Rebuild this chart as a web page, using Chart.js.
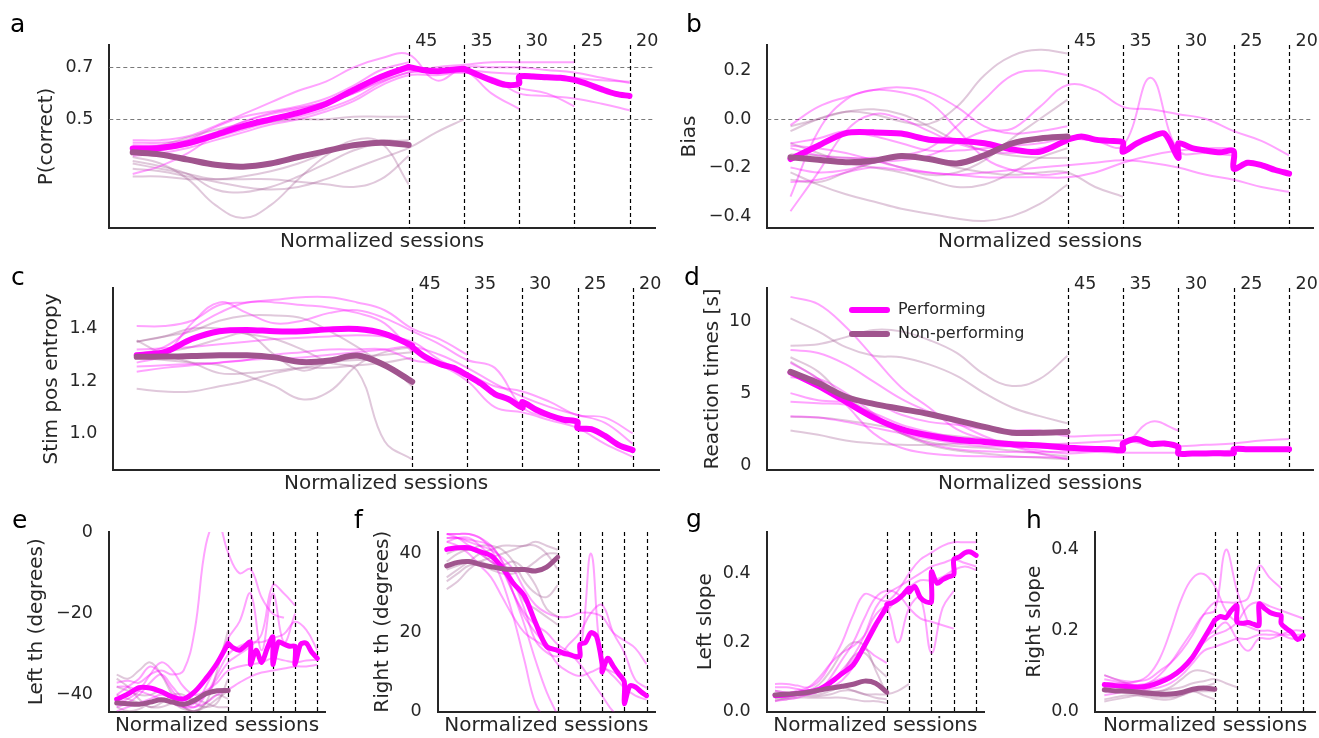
<!DOCTYPE html>
<html>
<head>
<meta charset="utf-8">
<script src="https://cdn.jsdelivr.net/npm/chart.js@4.4.1/dist/chart.umd.min.js"></script>
<style>
  body { margin: 0; background: #fff; }
  #fig { position: relative; width: 1319px; height: 738px; }
  #fig canvas { position: absolute; left: 0; top: 0; }
</style>
</head>
<body>
<div id="fig"></div>
<script>
// session axis: 0..5 = training before the first stage, then one unit per stage
const PRE_X = [0, 0.5, 1, 1.5, 2, 2.5, 3, 3.5, 4, 4.5, 5];
const STAGE_GRID = [5, 5.25, 5.5, 5.75, 6, 6, 6.25, 6.5, 6.75, 7, 7, 7.25, 7.5, 7.75, 8, 8, 8.25, 8.5, 8.75, 9];
const MEAN_X = PRE_X.concat(STAGE_GRID);
const THIN_X = [0, 0.5, 1, 1.5, 2, 2.5, 3, 3.5, 4, 4.5, 5, 5.5, 6, 6.5, 7, 7.5, 8, 8.5, 9];
const STAGE_X = [5, 6, 7, 8, 9];
const STAGE_LABELS = ['45', '35', '30', '25', '20'];

// a: P(correct)
const aTicks = [0.5, 0.7];
const aTickLabels = ['0.5', '0.7'];
const aPerfMean = [0.388, 0.39, 0.408, 0.44, 0.474, 0.50, 0.525, 0.559, 0.613, 0.664, 0.702,
  0.702, 0.69, 0.685, 0.69, 0.695, 0.695, 0.672, 0.65, 0.633, 0.638, 0.664, 0.665, 0.662, 0.66, 0.652, 0.652, 0.635, 0.615, 0.598, 0.59];
const aNonMean = [0.373, 0.365, 0.345, 0.325, 0.318, 0.33, 0.355, 0.378, 0.40, 0.41, 0.401];
const aPerfThin = [
  [0.42, 0.42, 0.435, 0.475, 0.52, 0.565, 0.61, 0.645, 0.70, 0.735, 0.75, 0.65, 0.70, 0.70, 0.70, 0.69, 0.68, 0.66, 0.64],
  [0.29, 0.32, 0.37, 0.44, 0.49, 0.525, 0.545, 0.565, 0.60, 0.645, 0.68, 0.70, 0.71, 0.72, 0.72, 0.72, 0.72],
  [0.40, 0.40, 0.41, 0.44, 0.47, 0.50, 0.53, 0.56, 0.60, 0.65, 0.69, 0.68, 0.69, 0.60, 0.54],
  [0.37, 0.38, 0.40, 0.43, 0.46, 0.49, 0.51, 0.54, 0.58, 0.64, 0.68, 0.68, 0.68, 0.66, 0.62, 0.60, 0.55],
  [0.36, 0.37, 0.39, 0.42, 0.45, 0.48, 0.50, 0.53, 0.57, 0.63, 0.67, 0.67, 0.68, 0.66, 0.60, 0.59, 0.58, 0.56, 0.535],
  [0.41, 0.41, 0.42, 0.45, 0.49, 0.52, 0.54, 0.57, 0.62, 0.67, 0.70, 0.69, 0.69, 0.68, 0.675, 0.67, 0.66, 0.65, 0.645],
  [0.38, 0.39, 0.42, 0.47, 0.51, 0.53, 0.55, 0.58, 0.63, 0.69, 0.72]
];
const aNonThin = [
  [0.355, 0.33, 0.27, 0.17, 0.12, 0.17, 0.27, 0.36, 0.42, 0.41, 0.25],
  [0.34, 0.32, 0.29, 0.23, 0.22, 0.24, 0.28, 0.33, 0.38, 0.41, 0.42],
  [0.38, 0.40, 0.43, 0.46, 0.48, 0.49, 0.50, 0.50, 0.51, 0.51, 0.51],
  [0.31, 0.30, 0.28, 0.26, 0.24, 0.23, 0.24, 0.27, 0.31, 0.35, 0.39, 0.45, 0.50],
  [0.33, 0.31, 0.29, 0.27, 0.28, 0.30, 0.33, 0.37, 0.40, 0.42, 0.41],
  [0.28, 0.28, 0.27, 0.27, 0.27, 0.27, 0.26, 0.25, 0.24, 0.27, 0.36]
];

// b: Bias
const bTicks = [-0.4, -0.2, 0.0, 0.2];
const bTickLabels = ['\u22120.4', '\u22120.2', '0.0', '0.2'];
const bPerfMean = [-0.165, -0.11, -0.058, -0.055, -0.06, -0.085, -0.09, -0.10, -0.125, -0.135, -0.085,
  -0.085, -0.072, -0.085, -0.09, -0.096, -0.135, -0.10, -0.075, -0.06, -0.16, -0.10, -0.12, -0.13, -0.137, -0.132, -0.205, -0.18, -0.19, -0.21, -0.225];
const bNonMean = [-0.158, -0.168, -0.178, -0.172, -0.152, -0.165, -0.183, -0.15, -0.10, -0.08, -0.072];
const bPerfThin = [
  [-0.38, -0.22, -0.05, 0.02, 0.0, -0.05, -0.10, -0.13, -0.14, -0.12, -0.10],
  [-0.32, -0.05, 0.08, 0.12, 0.13, 0.11, 0.05, -0.03, -0.06, -0.05, -0.03],
  [-0.025, 0.05, 0.09, 0.12, 0.11, 0.07, -0.04, -0.16, -0.21, -0.23, -0.22],
  [-0.12, -0.15, -0.16, -0.16, -0.15, -0.12, -0.03, 0.08, 0.18, 0.20, 0.18],
  [-0.20, -0.22, -0.21, -0.18, -0.17, -0.15, -0.10, -0.05, -0.04, 0.05, 0.14, 0.12, 0.05, 0.04, 0.02, 0.0, -0.05, -0.09, -0.15],
  [-0.10, -0.08, -0.05, -0.07, -0.10, -0.13, -0.13, -0.12, -0.11, -0.10, -0.08, -0.09, -0.11, 0.17, -0.13, -0.14, -0.15],
  [-0.26, -0.25, -0.22, -0.20, -0.21, -0.22, -0.23, -0.22, -0.21, -0.20, -0.19, -0.18, -0.17, -0.18, -0.20, -0.23, -0.25, -0.28, -0.30],
  [-0.11, -0.12, -0.14, -0.17, -0.20, -0.22, -0.23, -0.24, -0.24, -0.24, -0.24, -0.22, -0.18, -0.15, -0.13, -0.12, -0.12]
];
const bNonThin = [
  [-0.05, 0.0, 0.03, 0.02, -0.01, -0.02, 0.05, 0.18, 0.26, 0.285, 0.27],
  [-0.22, -0.27, -0.31, -0.34, -0.37, -0.39, -0.41, -0.42, -0.40, -0.35, -0.27],
  [-0.25, -0.26, -0.22, -0.18, -0.16, -0.17, -0.20, -0.22, -0.23, -0.22, -0.22, -0.28, -0.32],
  [-0.03, 0.0, 0.03, 0.04, 0.02, -0.03, -0.09, -0.13, -0.15, -0.16, -0.16],
  [-0.145, -0.15, -0.16, -0.17, -0.20, -0.23, -0.22, -0.17, -0.08, 0.0, 0.08],
  [-0.10, -0.14, -0.18, -0.20, -0.22, -0.25, -0.28, -0.27, -0.22, -0.16, -0.12]
];

// c: Stim pos entropy
const cTicks = [1.0, 1.2, 1.4];
const cTickLabels = ['1.0', '1.2', '1.4'];
const cPerfMean = [1.298, 1.31, 1.36, 1.39, 1.395, 1.39, 1.39, 1.397, 1.398, 1.38, 1.335,
  1.33, 1.29, 1.265, 1.25, 1.222, 1.222, 1.19, 1.15, 1.13, 1.098, 1.12, 1.09, 1.068, 1.052, 1.044, 1.02, 1.016, 0.99, 0.955, 0.936];
const cNonMean = [1.292, 1.293, 1.295, 1.298, 1.298, 1.29, 1.272, 1.278, 1.297, 1.26, 1.197];
const cPerfThin = [
  [1.41, 1.41, 1.43, 1.49, 1.50, 1.51, 1.52, 1.52, 1.50, 1.47, 1.40, 1.36, 1.30],
  [1.235, 1.25, 1.26, 1.27, 1.28, 1.285, 1.29, 1.30, 1.31, 1.32, 1.33, 1.30, 1.25, 1.19, 1.14, 1.10, 1.07, 1.04, 0.96],
  [1.27, 1.30, 1.42, 1.50, 1.46, 1.42, 1.43, 1.46, 1.47, 1.44, 1.39, 1.34, 1.28, 1.25, 1.10, 1.06, 1.04],
  [1.32, 1.325, 1.33, 1.34, 1.35, 1.36, 1.365, 1.37, 1.375, 1.37, 1.35, 1.28, 1.23, 1.18, 1.16, 1.12, 1.07, 1.06, 1.0],
  [1.255, 1.26, 1.265, 1.27, 1.28, 1.30, 1.31, 1.32, 1.32, 1.32, 1.28, 1.26, 1.20, 1.10, 1.08, 1.05, 1.02, 0.96, 0.91],
  [1.30, 1.33, 1.40, 1.46, 1.50, 1.50, 1.49, 1.48, 1.46, 1.42, 1.31]
];
const cNonThin = [
  [1.35, 1.37, 1.40, 1.40, 1.38, 1.36, 1.32, 1.27, 1.24, 0.97, 0.90],
  [1.17, 1.16, 1.16, 1.18, 1.20, 1.23, 1.25, 1.27, 1.29, 1.30, 1.31],
  [1.29, 1.28, 1.27, 1.26, 1.22, 1.18, 1.13, 1.16, 1.26, 1.31, 1.33],
  [1.35, 1.37, 1.39, 1.43, 1.45, 1.45, 1.44, 1.39, 1.33, 1.26, 1.20],
  [1.355, 1.30, 1.27, 1.23, 1.23, 1.24, 1.25, 1.25, 1.26, 1.27, 1.29],
  [1.29, 1.31, 1.33, 1.36, 1.38, 1.30, 1.24, 1.27, 1.28, 1.27, 1.18]
];

// d: Reaction times [s]
const dTicks = [0, 5, 10];
const dTickLabels = ['0', '5', '10'];
const dPerfMean = [6.45, 5.5, 4.4, 3.3, 2.5, 2.05, 1.75, 1.6, 1.45, 1.35, 1.2,
  1.2, 1.15, 1.12, 1.1, 1.05, 1.5, 1.8, 1.45, 1.5, 1.25, 0.8, 0.8, 0.8, 0.82, 0.82, 1.1, 1.1, 1.1, 1.1, 1.1];
const dNonMean = [6.48, 5.7, 4.75, 4.25, 3.9, 3.55, 3.1, 2.65, 2.25, 2.25, 2.3];
const dPerfThin = [
  [11.7, 11.2, 9.6, 7.5, 5.4, 4.0, 2.5, 1.8, 1.5, 1.3, 1.1],
  [8.0, 7.8, 7.0, 5.8, 4.6, 3.7, 2.9, 2.0, 1.3, 0.8, 0.4],
  [7.1, 6.0, 4.2, 2.2, 1.2, 0.8, 0.65, 0.6, 0.55, 0.55, 0.5],
  [5.0, 4.5, 4.4, 4.3, 3.5, 3.0, 2.8, 2.5, 2.4, 2.4, 2.0, 2.05, 2.1],
  [6.1, 6.0, 5.0, 3.6, 2.3, 1.5, 1.1, 0.95, 0.9, 0.9, 0.95, 1.0, 1.3, 3.0, 2.4],
  [4.4, 4.3, 4.2, 3.6, 2.8, 2.3, 1.9, 1.6, 1.3, 1.0, 0.8, 0.9, 0.85, 0.85, 0.85, 0.9, 1.0, 1.1, 1.2],
  [3.4, 3.3, 3.0, 2.6, 2.2, 1.8, 1.5, 1.3, 1.3, 1.4, 1.5, 1.6, 1.7, 1.4, 1.3, 1.4, 1.5, 1.7, 1.8]
];
const dNonThin = [
  [8.3, 8.4, 8.9, 9.4, 9.3, 8.7, 7.8, 6.3, 5.5, 6.0, 7.6],
  [10.2, 9.3, 8.2, 7.6, 7.5, 7.0, 6.2, 5.0, 4.0, 3.4, 2.9],
  [7.5, 6.5, 4.6, 3.4, 2.2, 1.4, 1.0, 0.8, 0.6, 0.5, 0.4],
  [3.35, 3.3, 3.1, 2.8, 2.5, 2.2, 2.0, 1.8, 1.6, 1.5, 1.4],
  [2.4, 2.1, 1.7, 1.5, 1.4, 1.4, 1.5, 1.6, 1.5, 1.4, 1.3],
  [7.2, 6.0, 4.7, 3.5, 2.2, 1.6, 1.3, 1.2, 1.0, 0.8, 0.6]
];

// e: Left threshold
const eTicks = [-40, -20, 0];
const eTickLabels = ['\u221240', '\u221220', '0'];
const ePerfMean = [-41.1, -39.8, -38.2, -38.3, -39.2, -40.5, -41.0, -39.2, -36.0, -32.2, -27.3,
  -27.3, -28.5, -29.0, -28.0, -27.0, -32.5, -29.0, -32.0, -28.5, -25.7, -32.5, -27.0, -27.5, -28.0, -28.1, -32.5, -27.5, -27.3, -29.5, -31.0];
const eNonMean = [-42.0, -42.2, -42.3, -41.8, -41.2, -41.8, -42.3, -41.3, -39.7, -39.0, -38.9];
const ePerfThin = [
  [-37, -36.5, -37, -35, -34, -35, -34, -24, -3, 3, -5, -10, -9, -16, -20, -21],
  [-43, -42, -40, -37, -35, -38, -41, -42, -38, -32, -26, -22, -15, -29, -15, -27, -20],
  [-40, -38, -36, -33, -35, -39, -42, -43, -40, -36, -32, -30, -28, -25, -13, -15, -18],
  [-38, -38, -39, -40, -41, -42, -43, -42, -40, -35, -30, -28, -27, -27, -26, -25, -22, -24, -29],
  [-44, -43, -42, -41, -40, -41, -43, -43, -42, -40, -38.7, -37, -35.5, -34.5, -34, -33.5, -33, -33, -32.6],
  [-42, -41, -39, -35, -32, -34, -38, -40, -39, -37, -34, -33, -32.5, -32, -31, -31.5, -32, -31.5, -31.4]
];
const eNonThin = [
  [-35, -36, -34, -32, -35, -40, -43, -44, -42, -34, -24],
  [-40, -41, -42, -43, -43, -42, -41, -41, -42, -43, -43],
  [-38, -39, -40, -40, -39, -41, -43, -44, -42, -40, -41],
  [-43, -44, -43.5, -42, -41, -42, -43.5, -44, -43, -41, -39],
  [-36, -38, -41, -43, -42, -40, -40, -42, -43, -42, -36]
];

// f: Right threshold
const fTicks = [0, 20, 40];
const fTickLabels = ['0', '20', '40'];
const fPerfMean = [41.1, 41.5, 41.5, 40.5, 39.5, 36.5, 32.5, 29.3, 22.5, 16.5, 15.5,
  15.5, 14.8, 14.5, 14.0, 13.9, 17.0, 17.5, 20.0, 19.0, 12.0, 10.0, 13.5, 11.5, 9.5, 7.5, 2.0, 6.5, 6.2, 5.0, 4.0];
const fNonMean = [36.9, 37.8, 38.0, 37.3, 36.7, 36.2, 36.0, 36.0, 35.6, 36.6, 39.1];
const fPerfThin = [
  [45, 45, 45, 44, 42, 38, 30, 22, 13, 5, -1],
  [44, 44, 43.5, 43, 42, 38, 33, 26, 18, 15, 14, 17, 20, 25, 27, 20, 15, 8, 6],
  [43, 44, 44, 42, 39, 33, 24, 13, 2, -2, -3],
  [45, 45, 45, 44, 41, 36, 30, 25, 22, 20, 17, 15, 12, 8, 4, 0, -2],
  [45, 44, 42, 40, 38, 36, 30, 24, 20, 17, 15, 14, 15, 40, 12, 10, 9],
  [44, 44, 43, 42, 41, 39, 36, 31, 27, 25, 24, 24, 25, 25, 24, 20, 18, 16, 12],
  [43, 42, 40, 37, 34, 29, 24, 20, 18, 16, 12, 10, 9, 10, 11, 9, 6, 4, 3]
];
const fNonThin = [
  [34, 36, 38, 40, 41, 42, 42, 42, 43, 42, 41],
  [31, 33, 36, 38, 39, 40, 41, 42, 42, 40, 36],
  [38, 40, 41, 40, 38, 36, 33, 28, 26, 24, 22],
  [36, 37, 38, 38, 37, 37, 38, 36, 32, 26, 24],
  [40, 41, 41, 42, 42, 41, 38, 33, 30, 29, 32],
  [33, 35, 37, 37, 36, 35, 35, 36, 38, 40, 40]
];

// g: Left slope
const gTicks = [0.0, 0.2, 0.4];
const gTickLabels = ['0.0', '0.2', '0.4'];
const gPerfMean = [0.046, 0.048, 0.052, 0.057, 0.065, 0.085, 0.11, 0.135, 0.19, 0.25, 0.305,
  0.31, 0.315, 0.325, 0.34, 0.358, 0.345, 0.362, 0.33, 0.318, 0.318, 0.405, 0.372, 0.382, 0.39, 0.397, 0.44, 0.448, 0.46, 0.462, 0.452];
const gNonMean = [0.048, 0.05, 0.052, 0.056, 0.062, 0.068, 0.073, 0.079, 0.088, 0.082, 0.056];
const gPerfThin = [
  [0.08, 0.08, 0.075, 0.07, 0.09, 0.14, 0.20, 0.28, 0.34, 0.33, 0.32, 0.35, 0.40, 0.44, 0.46, 0.48, 0.49, 0.49, 0.49],
  [0.03, 0.035, 0.04, 0.05, 0.06, 0.08, 0.12, 0.16, 0.22, 0.30, 0.34, 0.36, 0.38, 0.40, 0.42, 0.43, 0.44, 0.43, 0.42],
  [0.05, 0.05, 0.06, 0.07, 0.10, 0.14, 0.17, 0.19, 0.22, 0.28, 0.30, 0.20, 0.30, 0.33, 0.17, 0.30, 0.35],
  [0.06, 0.055, 0.05, 0.05, 0.06, 0.10, 0.15, 0.20, 0.27, 0.33, 0.35, 0.34, 0.30, 0.27, 0.26, 0.25, 0.24],
  [0.04, 0.045, 0.05, 0.055, 0.06, 0.07, 0.09, 0.13, 0.20, 0.26, 0.29, 0.33, 0.36, 0.38, 0.38, 0.39, 0.41, 0.42, 0.41],
  [0.07, 0.07, 0.065, 0.06, 0.065, 0.08, 0.11, 0.15, 0.18, 0.16, 0.14]
];
const gNonThin = [
  [0.03, 0.04, 0.05, 0.06, 0.08, 0.12, 0.17, 0.20, 0.19, 0.12, 0.05],
  [0.05, 0.05, 0.05, 0.05, 0.05, 0.06, 0.07, 0.06, 0.05, 0.05, 0.05, 0.06, 0.08],
  [0.04, 0.04, 0.045, 0.05, 0.06, 0.08, 0.11, 0.16, 0.17, 0.13, 0.10],
  [0.06, 0.055, 0.05, 0.045, 0.045, 0.05, 0.06, 0.06, 0.05, 0.04, 0.035],
  [0.035, 0.035, 0.04, 0.04, 0.04, 0.04, 0.04, 0.035, 0.03, 0.03, 0.025]
];

// h: Right slope
const hTicks = [0.0, 0.2, 0.4];
const hTickLabels = ['0.0', '0.2', '0.4'];
const hPerfMean = [0.067, 0.064, 0.062, 0.06, 0.063, 0.072, 0.085, 0.105, 0.135, 0.18, 0.226,
  0.226, 0.235, 0.232, 0.25, 0.262, 0.222, 0.218, 0.22, 0.216, 0.213, 0.266, 0.255, 0.245, 0.24, 0.237, 0.218, 0.205, 0.195, 0.178, 0.188];
const hNonMean = [0.054, 0.051, 0.05, 0.048, 0.045, 0.043, 0.043, 0.047, 0.055, 0.058, 0.055];
const hPerfThin = [
  [0.09, 0.08, 0.075, 0.075, 0.09, 0.13, 0.20, 0.28, 0.33, 0.34, 0.31, 0.25, 0.22, 0.21, 0.20, 0.20, 0.19, 0.18, 0.185],
  [0.05, 0.05, 0.055, 0.06, 0.07, 0.09, 0.12, 0.16, 0.20, 0.24, 0.25, 0.40, 0.30, 0.22],
  [0.07, 0.07, 0.07, 0.075, 0.08, 0.10, 0.12, 0.15, 0.19, 0.24, 0.27, 0.27, 0.27, 0.28, 0.36, 0.33, 0.305],
  [0.06, 0.06, 0.06, 0.065, 0.07, 0.08, 0.09, 0.11, 0.14, 0.17, 0.19, 0.20, 0.22, 0.26, 0.27, 0.26, 0.25, 0.24, 0.23],
  [0.04, 0.045, 0.05, 0.05, 0.055, 0.06, 0.07, 0.09, 0.12, 0.15, 0.16, 0.17, 0.18, 0.18, 0.19, 0.19, 0.19, 0.19, 0.19],
  [0.08, 0.075, 0.07, 0.065, 0.065, 0.07, 0.08, 0.10, 0.13, 0.18, 0.20, 0.22, 0.18, 0.15, 0.18, 0.18, 0.19, 0.20, 0.20]
];
const hNonThin = [
  [0.09, 0.08, 0.07, 0.06, 0.05, 0.05, 0.06, 0.08, 0.10, 0.10, 0.09],
  [0.03, 0.035, 0.04, 0.04, 0.035, 0.03, 0.03, 0.04, 0.05, 0.04, 0.03],
  [0.06, 0.06, 0.055, 0.05, 0.05, 0.05, 0.055, 0.06, 0.07, 0.075, 0.08, 0.07, 0.06],
  [0.05, 0.05, 0.05, 0.045, 0.04, 0.035, 0.035, 0.04, 0.05, 0.06, 0.07],
  [0.025, 0.03, 0.035, 0.04, 0.04, 0.04, 0.04, 0.045, 0.05, 0.05, 0.05]
];

const FONT = 'DejaVu Sans';
const TEXT = '#262626';
const PERF = '#ff00ff';
const NONPERF = '#a0548e';
const PERF_THIN = 'rgba(255, 0, 255, 0.36)';
const NONPERF_THIN = 'rgba(160, 84, 142, 0.32)';
const W = 1319, H = 738, YW = 60;

// dashed guides, panel letters, axis titles, stage names and the legend
const decor = {
  id: 'decor',
  beforeDatasetsDraw(chart, args, o) {
    const { ctx, chartArea: ca, scales: { x, y } } = chart;
    ctx.save();
    ctx.setLineDash([4, 3]);
    ctx.lineWidth = 1;
    ctx.strokeStyle = '#7a7a7a';
    o.hlines.forEach(v => {
      const py = Math.round(y.getPixelForValue(v)) + 0.5;
      ctx.beginPath(); ctx.moveTo(ca.left, py); ctx.lineTo(ca.right, py); ctx.stroke();
    });
    ctx.strokeStyle = '#000';
    ctx.lineWidth = 1.2;
    STAGE_X.forEach(v => {
      const px = Math.round(x.getPixelForValue(v)) + 0.5;
      ctx.beginPath(); ctx.moveTo(px, ca.top); ctx.lineTo(px, ca.bottom); ctx.stroke();
    });
    ctx.restore();
  },
  afterDraw(chart, args, o) {
    const { ctx, chartArea: ca, scales: { x } } = chart;
    ctx.save();
    ctx.fillStyle = '#000';
    ctx.font = `25px "${FONT}"`;
    ctx.textBaseline = 'alphabetic';
    ctx.fillText(o.letter, o.letterAt[0], o.letterAt[1]);

    ctx.fillStyle = TEXT;
    ctx.font = `20px "${FONT}"`;
    ctx.textAlign = 'center';
    ctx.textBaseline = 'middle';
    ctx.fillText('Normalized sessions', (ca.left + ca.right) / 2, ca.bottom + 14);
    ctx.save();
    ctx.translate(o.yTitleX, (ca.top + ca.bottom) / 2);
    ctx.rotate(-Math.PI / 2);
    ctx.fillText(o.yTitle, 0, 0);
    ctx.restore();

    if (o.stageNames) {
      ctx.textAlign = 'left';
      ctx.textBaseline = 'alphabetic';
      ctx.font = `17.5px "${FONT}"`;
      STAGE_X.forEach((v, i) => ctx.fillText(STAGE_LABELS[i], x.getPixelForValue(v) + 6.5, ca.top + 1));
    }

    if (o.legendAt) {
      const [lx, ly] = o.legendAt;
      const means = chart.data.datasets.filter(d => d.label);
      ctx.textAlign = 'left';
      ctx.textBaseline = 'middle';
      ctx.font = `16px "${FONT}"`;
      ctx.lineCap = 'round';
      means.forEach((d, i) => {
        const yy = ly + i * 24;
        ctx.strokeStyle = d.borderColor;
        ctx.lineWidth = 6;
        ctx.beginPath(); ctx.moveTo(lx, yy); ctx.lineTo(lx + 35, yy); ctx.stroke();
        ctx.fillStyle = TEXT;
        ctx.fillText(d.label, lx + 46, yy);
      });
    }
    ctx.restore();
  }
};

function series(xs, ys) {
  return ys.map((v, i) => ({ x: xs[i], y: v }));
}

function thin(ys, color) {
  return { data: series(THIN_X, ys), borderColor: color, borderWidth: 2, pointRadius: 0, tension: 0.4, order: color === PERF_THIN ? 2 : 3 };
}

function panel(p) {
  const canvas = document.createElement('canvas');
  canvas.width = W; canvas.height = H;
  document.getElementById('fig').appendChild(canvas);
  const xmin = (p.box[0] - p.x0) / p.unit;
  const xmax = (p.box[2] - p.x0) / p.unit;
  const datasets = [
    { label: 'Performing', data: series(MEAN_X, p.perfMean), borderColor: PERF, borderWidth: p.lw, pointRadius: 0, tension: 0.3, order: 1, borderCapStyle: 'round', borderJoinStyle: 'round' },
    { label: 'Non-performing', data: series(PRE_X, p.nonMean), borderColor: NONPERF, borderWidth: p.lw, pointRadius: 0, tension: 0.35, order: 0, borderCapStyle: 'round', borderJoinStyle: 'round' },
    ...p.perfThin.map(ys => thin(ys, PERF_THIN)),
    ...p.nonThin.map(ys => thin(ys, NONPERF_THIN))
  ];
  new Chart(canvas, {
    type: 'line',
    data: { datasets },
    options: {
      responsive: false,
      animation: false,
      events: [],
      layout: { padding: { left: p.box[0] - YW, top: p.box[1], right: W - p.box[2], bottom: H - p.box[3] } },
      plugins: {
        legend: { display: false },
        tooltip: { enabled: false },
        decor: { letter: p.letter, letterAt: p.letterAt, yTitle: p.yTitle, yTitleX: p.yTitleX, hlines: p.hlines, stageNames: p.stageNames, legendAt: p.legendAt }
      },
      scales: {
        x: {
          type: 'linear', min: xmin, max: xmax,
          afterFit: s => { s.height = 0; },
          ticks: { display: false },
          grid: { display: false, drawTicks: false },
          border: { display: true, color: TEXT, width: 2 }
        },
        y: {
          type: 'linear', min: p.y[0], max: p.y[1],
          afterFit: s => { s.width = YW; },
          afterBuildTicks: s => { s.ticks = p.ticks.map(v => ({ value: v })); },
          ticks: {
            padding: 16, color: TEXT, font: { family: FONT, size: 17.5 },
            callback: v => p.tickLabels[p.ticks.findIndex(t => Math.abs(t - v) < 1e-9)]
          },
          grid: { display: false, drawTicks: false },
          border: { display: true, color: TEXT, width: 2 }
        }
      }
    },
    plugins: [decor]
  });
}

panel({ letter: 'a', letterAt: [10, 32], yTitle: 'P(correct)', yTitleX: 47, box: [109.3, 45, 655, 228], x0: 132.7, unit: 55.2, y: [0.082, 0.786],
  ticks: aTicks, tickLabels: aTickLabels, hlines: [0.5, 0.7], stageNames: true, lw: 6,
  perfMean: aPerfMean, nonMean: aNonMean, perfThin: aPerfThin, nonThin: aNonThin });
panel({ letter: 'b', letterAt: [686, 32], yTitle: 'Bias', yTitleX: 690, box: [767.3, 45, 1313, 228], x0: 790.5, unit: 55.4, y: [-0.449, 0.305],
  ticks: bTicks, tickLabels: bTickLabels, hlines: [0.0], stageNames: true, lw: 6,
  perfMean: bPerfMean, nonMean: bNonMean, perfThin: bPerfThin, nonThin: bNonThin });
panel({ letter: 'c', letterAt: [11, 285], yTitle: 'Stim pos entropy', yTitleX: 52, box: [113.3, 288, 659, 470], x0: 136.7, unit: 55.1, y: [0.860, 1.555],
  ticks: cTicks, tickLabels: cTickLabels, hlines: [], stageNames: true, lw: 6,
  perfMean: cPerfMean, nonMean: cNonMean, perfThin: cPerfThin, nonThin: cNonThin });
panel({ letter: 'd', letterAt: [684, 285], yTitle: 'Reaction times [s]', yTitleX: 713, box: [767.3, 288, 1313, 470], x0: 790.5, unit: 55.4, y: [-0.35, 12.32],
  ticks: dTicks, tickLabels: dTickLabels, hlines: [], stageNames: true, lw: 6, legendAt: [852, 310],
  perfMean: dPerfMean, nonMean: dNonMean, perfThin: dPerfThin, nonThin: dNonThin });
panel({ letter: 'e', letterAt: [12, 528], yTitle: 'Left th (degrees)', yTitleX: 37, box: [109, 532, 325, 714], x0: 116.7, unit: 22.3, y: [-44.1, 0.15],
  ticks: eTicks, tickLabels: eTickLabels, hlines: [], stageNames: false, lw: 5,
  perfMean: ePerfMean, nonMean: eNonMean, perfThin: ePerfThin, nonThin: eNonThin });
panel({ letter: 'f', letterAt: [354, 528], yTitle: 'Right th (degrees)', yTitleX: 383, box: [437.7, 532, 655, 714], x0: 446.7, unit: 22.2, y: [0, 45.5],
  ticks: fTicks, tickLabels: fTickLabels, hlines: [], stageNames: false, lw: 5,
  perfMean: fPerfMean, nonMean: fNonMean, perfThin: fPerfThin, nonThin: fNonThin });
panel({ letter: 'g', letterAt: [686, 527], yTitle: 'Left slope', yTitleX: 706, box: [766.7, 532, 984, 714], x0: 775, unit: 22.35, y: [0, 0.52],
  ticks: gTicks, tickLabels: gTickLabels, hlines: [], stageNames: false, lw: 5,
  perfMean: gPerfMean, nonMean: gNonMean, perfThin: gPerfThin, nonThin: gNonThin });
panel({ letter: 'h', letterAt: [1026, 528], yTitle: 'Right slope', yTitleX: 1035, box: [1095, 532, 1315, 714], x0: 1104.3, unit: 22.1, y: [0, 0.444],
  ticks: hTicks, tickLabels: hTickLabels, hlines: [], stageNames: false, lw: 5,
  perfMean: hPerfMean, nonMean: hNonMean, perfThin: hPerfThin, nonThin: hNonThin });
</script>
</body>
</html>
